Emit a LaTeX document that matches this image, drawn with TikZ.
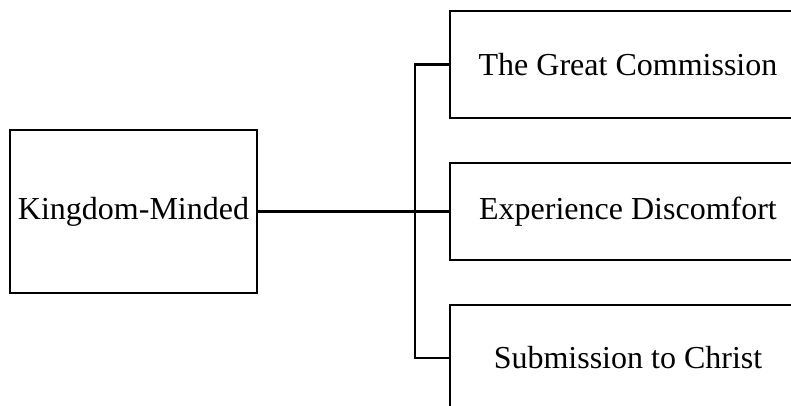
\documentclass[tikz,border=0pt]{standalone}
\usepackage{fontspec}
\setmainfont{Liberation Serif}
\begin{document}
\begin{tikzpicture}[x=1pt,y=-1pt,
  box/.style={draw=black,line width=2.6pt,fill=white,inner sep=0pt,font=\fontsize{32}{36}\selectfont},
  conn/.style={draw=black,line width=2.4pt}]
\useasboundingbox (0,0) rectangle (791,406);
\clip (0,0) rectangle (791,406);
\node[box,minimum width=247pt,minimum height=163pt] (km) at (133.5,211.5) {\raisebox{-2pt}{Kingdom-Minded}};
\node[box,minimum width=356pt,minimum height=107pt] (gc) at (628,64.5) {\raisebox{-2pt}{The Great Commission}};
\node[box,minimum width=356pt,minimum height=97pt] (ed) at (628,211.5) {\raisebox{-2pt}{Experience Discomfort}};
\node[box,minimum width=356pt,minimum height=106pt] (sc) at (628,358) {\raisebox{-2pt}{Submission to Christ}};
\coordinate (j) at (415,211.5);
\draw[conn] (km.east) -- (ed.west);
\draw[conn] (gc.west) -| (j) |- (sc.west);
\end{tikzpicture}
\end{document}
